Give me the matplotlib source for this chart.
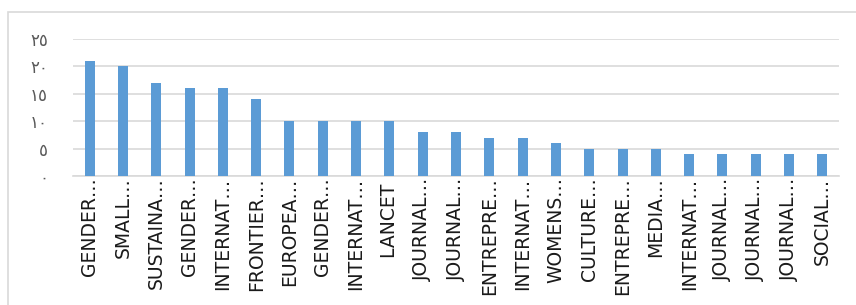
import matplotlib
matplotlib.use("Agg")
import matplotlib.pyplot as plt
from matplotlib.patches import Rectangle

labels = ["GENDER…", "SMALL…", "SUSTAINA…", "GENDER…", "INTERNAT…", "FRONTIER…",
          "EUROPEA…", "GENDER…", "INTERNAT…", "LANCET ", "JOURNAL…", "JOURNAL…",
          "ENTREPRE…", "INTERNAT…", "WOMENS…", "CULTURE…", "ENTREPRE…", "MEDIA…",
          "INTERNAT…", "JOURNAL…", "JOURNAL…", "JOURNAL…", "SOCIAL…"]
values = [21, 20, 17, 16, 16, 14, 10, 10, 10, 10, 8, 8, 7, 7, 6, 5, 5, 5, 4, 4, 4, 4, 4]
yticks = [0, 5, 10, 15, 20, 25]
ytick_labels = ["٠", "٥", "١٠", "١٥", "٢٠", "٢٥"]

W, H = 856, 305
fig = plt.figure(figsize=(W / 100, H / 100), dpi=100)
# light chart-area border (only top and left edges visible in the crop)
fig.patches.append(Rectangle((8 / W, -0.1), 1.2, (H - 12) / H + 0.1,
                             transform=fig.transFigure, fill=False,
                             ec="#d9d9d9", lw=1.2))
ax = fig.add_axes([73 / W, 1 - 176 / H, (839 - 73) / W, (176 - 39) / H])

x = range(len(values))
ax.bar(x, values, width=0.3, color="#5b9bd5", zorder=3)
ax.set_xlim(-0.5, len(values) - 0.5)
ax.set_ylim(0, 25)
ax.set_yticks(yticks)
ax.set_yticklabels(ytick_labels, family=["DejaVu Sans"], fontsize=12, color="#595959")
ax.set_xticks(list(x))
ax.set_xticklabels(labels, rotation=90, family=["DejaVu Sans"],
                   fontsize=13.5, color="#1a1a1a", va="top", ha="center")
ax.tick_params(axis="both", length=0)
ax.tick_params(axis="y", pad=18)
ax.tick_params(axis="x", pad=1)
ax.grid(axis="y", color="#d9d9d9", lw=1.2, zorder=0)
for s in ["top", "right", "left"]:
    ax.spines[s].set_visible(False)
ax.spines["bottom"].set_color("#d9d9d9")
ax.spines["bottom"].set_linewidth(1.2)

fig.savefig("out.png", dpi=100)
